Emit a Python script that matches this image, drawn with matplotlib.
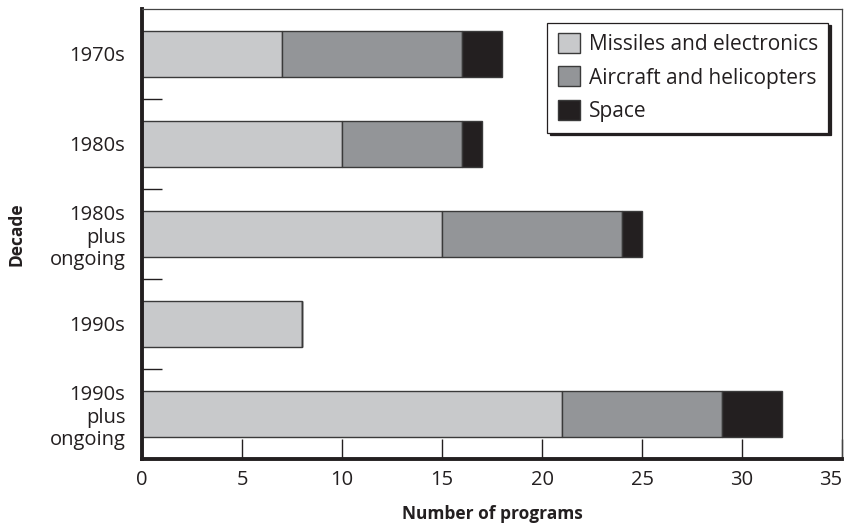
import matplotlib.pyplot as plt
import numpy as np

plt.rcParams['font.family'] = ['Open Sans', 'DejaVu Sans']

# data
decades = ['1970s', '1980s', '1980s\nplus\nongoing', '1990s', '1990s\nplus\nongoing']
missiles = [7, 10, 15, 8, 21]
aircraft = [9, 6, 9, 0, 8]
space = [2, 1, 1, 0, 3]
series_names = ['Missiles and electronics', 'Aircraft and helicopters', 'Space']
xticks = [0, 5, 10, 15, 20, 25, 30, 35]

ink = '#231f20'
colors = ['#c8c9cb', '#939598', '#231f20']

fig = plt.figure(figsize=(8.47, 5.26), dpi=100)
ax = fig.add_axes([0.1677, 0.1274, 0.8264, 0.8555])

y = np.arange(len(decades))
left = np.zeros(len(decades))
for vals, col, name in zip([missiles, aircraft, space], colors, series_names):
    vals = np.array(vals, dtype=float)
    ax.barh(y, vals, left=left, height=0.51, color=col, edgecolor='#3a3a3a',
            linewidth=1.0, label=name)
    left = left + vals

ax.set_xlim(0, 35)
ax.set_ylim(4.5, -0.5)

ax.set_xticks(xticks)
ax.set_xticklabels([str(t) for t in xticks], fontsize=14.5, color=ink)
ax.get_xticklabels()[-1].set_horizontalalignment('right')
ax.tick_params(axis='x', direction='in', length=14.5, width=1.0, color=ink, pad=8)

# category labels without ticks, boundary ticks as minor
ax.set_yticks(y)
ax.set_yticklabels(decades, fontsize=14.5, color=ink, linespacing=1.15, ha='right')
ax.tick_params(axis='y', which='major', length=0, pad=12)
ax.set_yticks(y[:-1] + 0.5, minor=True)
ax.tick_params(axis='y', which='minor', direction='in', length=14.5, width=1.0, color=ink)

for side in ['left', 'bottom']:
    ax.spines[side].set_linewidth(2.8)
    ax.spines[side].set_color(ink)
for side in ['top', 'right']:
    ax.spines[side].set_linewidth(0.9)
    ax.spines[side].set_color('#444444')

ax.set_xlabel('Number of programs', fontsize=12.5, fontweight='bold', color=ink, labelpad=11)
ax.set_ylabel('Decade', fontsize=12.5, fontweight='bold', color=ink)
ax.yaxis.set_label_coords(-0.166, 0.5)

leg = ax.legend(loc='upper right', fontsize=15, frameon=True, fancybox=False,
                edgecolor=ink, framealpha=1, borderaxespad=0.65,
                handlelength=1.1, handleheight=1.1, handletextpad=0.4,
                labelspacing=0.55, borderpad=0.5,
                shadow={'color': ink, 'alpha': 1})
leg.get_frame().set_linewidth(0.9)
for t in leg.get_texts():
    t.set_color(ink)

fig.savefig('out.png', dpi=100)
